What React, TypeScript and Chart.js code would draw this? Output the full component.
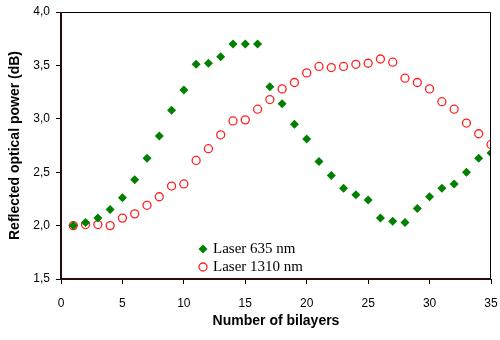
import React, { useEffect, useRef } from "react";
import { Chart, registerables } from "chart.js";

Chart.register(...registerables);

const bilayers = [1,2,3,4,5,6,7,8,9,10,11,12,13,14,15,16,17,18,19,20,21,22,23,24,25,26,27,28,29,30,31,32,33,34,35];
const laser635 = [2.00,2.03,2.07,2.15,2.26,2.43,2.63,2.84,3.08,3.27,3.51,3.52,3.58,3.70,3.70,3.70,3.30,3.14,2.95,2.81,2.60,2.47,2.35,2.29,2.24,2.07,2.04,2.03,2.16,2.27,2.35,2.39,2.50,2.63,2.68];
const laser1310 = [2.00,2.01,2.01,2.00,2.07,2.11,2.19,2.27,2.37,2.39,2.61,2.72,2.85,2.98,2.99,3.09,3.18,3.28,3.34,3.43,3.49,3.48,3.49,3.51,3.52,3.56,3.53,3.38,3.34,3.28,3.16,3.09,2.96,2.86,2.76];
const seriesNames = ["Laser 635 nm", "Laser 1310 nm"];
const xTitle = "Number of bilayers";
const yTitle = "Reflected optical power (dB)";

const GREEN = "#008000";
const RED = "#ff2020";

const framePlugin = {
  id: "frame",
  afterDraw(chart: any) {
    const { ctx, chartArea: a } = chart;
    ctx.save();
    ctx.strokeStyle = "#000";
    ctx.lineWidth = 1;
    ctx.beginPath();
    ctx.moveTo(a.left, a.top + 0.5);
    ctx.lineTo(a.right - 0.5, a.top + 0.5);
    ctx.lineTo(a.right - 0.5, a.bottom);
    ctx.stroke();
    ctx.strokeStyle = "#2a0a0a";
    ctx.lineWidth = 2;
    ctx.beginPath();
    ctx.moveTo(a.left, a.top);
    ctx.lineTo(a.left, a.bottom);
    ctx.lineTo(a.right, a.bottom);
    ctx.stroke();
    // legend
    const lx = 203;
    const ly1 = 249;
    const ly2 = 267;
    ctx.fillStyle = GREEN;
    ctx.beginPath();
    ctx.moveTo(lx, ly1 - 4.5);
    ctx.lineTo(lx + 4.5, ly1);
    ctx.lineTo(lx, ly1 + 4.5);
    ctx.lineTo(lx - 4.5, ly1);
    ctx.closePath();
    ctx.fill();
    ctx.strokeStyle = RED;
    ctx.lineWidth = 1.3;
    ctx.beginPath();
    ctx.arc(lx, ly2, 4, 0, Math.PI * 2);
    ctx.stroke();
    ctx.fillStyle = "#000";
    ctx.font = "15px 'Liberation Serif', 'Times New Roman', serif";
    ctx.textBaseline = "middle";
    ctx.textAlign = "left";
    ctx.fillText(seriesNames[0], 213, ly1 + 0.5);
    ctx.fillText(seriesNames[1], 213, ly2 + 0.5);
    ctx.restore();
  },
};

export default function App() {
  const ref = useRef<HTMLCanvasElement | null>(null);
  useEffect(() => {
    if (!ref.current) return;
    const font = { family: "'Liberation Sans', Arial, sans-serif", size: 12 };
    const titleFont = { family: "'Liberation Sans', Arial, sans-serif", size: 14, weight: "bold" };
    const chart = new Chart(ref.current, {
      type: "scatter",
      data: {
        datasets: [
          {
            label: seriesNames[0],
            data: bilayers.map((x, i) => ({ x, y: laser635[i] })),
            pointStyle: "rectRot",
            pointRadius: 4.5,
            backgroundColor: GREEN,
            borderColor: GREEN,
            borderWidth: 0,
          },
          {
            label: seriesNames[1],
            data: bilayers.map((x, i) => ({ x, y: laser1310[i] })),
            pointStyle: "circle",
            pointRadius: 4,
            backgroundColor: "rgba(255,255,255,0)",
            borderColor: RED,
            borderWidth: 1.3,
          },
        ],
      },
      options: {
        animation: false,
        responsive: false,
        devicePixelRatio: 1,
        layout: { padding: { top: 12, right: 9, left: 3, bottom: 6 } },
        plugins: { legend: { display: false }, tooltip: { enabled: false } },
        scales: {
          x: {
            type: "linear",
            min: 0,
            max: 35,
            ticks: { stepSize: 5, font, color: "#000", padding: 12 },
            grid: { drawOnChartArea: false, drawTicks: true, tickLength: 5, color: "#000" },
            border: { display: false },
            title: { display: true, text: xTitle, color: "#000", font: titleFont },
            afterFit(scale: any) {
              scale.height = 55;
              scale.paddingRight = 0;
              scale.paddingLeft = 0;
            },
          },
          y: {
            type: "linear",
            min: 1.5,
            max: 4,
            ticks: {
              stepSize: 0.5,
              font,
              color: "#000",
              padding: 6,
              callback: (v: any) => Number(v).toFixed(1).replace(".", ","),
            },
            grid: { drawOnChartArea: false, drawTicks: true, tickLength: 5, color: "#000" },
            border: { display: false },
            title: { display: true, text: yTitle, color: "#000", font: titleFont },
            afterFit(scale: any) {
              scale.width = 58;
              scale.paddingTop = 0;
              scale.paddingBottom = 0;
            },
          },
        },
      },
      plugins: [framePlugin],
    } as any);
    return () => chart.destroy();
  }, []);
  return (
    <div style={{ position: "fixed", left: 0, top: 0, width: 500, height: 340, background: "#fff" }}>
      <canvas ref={ref} width={500} height={340} style={{ width: 500, height: 340 }} />
    </div>
  );
}
